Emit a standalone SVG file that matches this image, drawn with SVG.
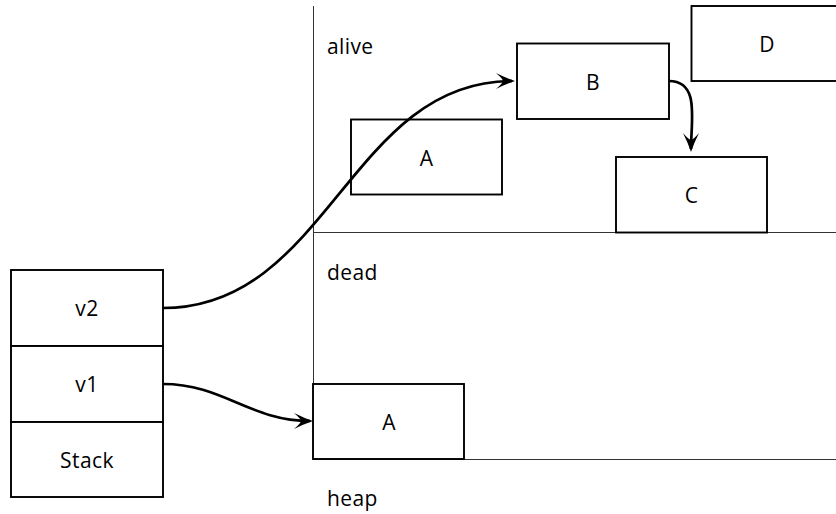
<svg xmlns="http://www.w3.org/2000/svg" width="836" height="514" viewBox="0 0 836 514">
  <style>
    .box { fill: #ffffff; stroke: #000000; stroke-width: 1.9; }
    .lbl { font-family: "Open Sans", "Noto Sans", "DejaVu Sans", sans-serif; font-size: 21px; letter-spacing: 0.4px; fill: #000000; text-anchor: middle; }
    .area { font-family: "Open Sans", "Noto Sans", "DejaVu Sans", sans-serif; font-size: 21px; letter-spacing: 0.4px; fill: #000000; }
    .divider { stroke: #333333; stroke-width: 1; fill: none; }
    .edge { fill: none; stroke: #000000; stroke-width: 2.7; marker-end: url(#head); }
  </style>
  <defs>
    <marker id="head" markerUnits="userSpaceOnUse" viewBox="-22 -10 24 20" refX="-3" refY="0" markerWidth="24" markerHeight="20" orient="auto">
      <path d="M0,0 Q-9,-3 -19,-8 Q-12,-2 -12,0 Q-12,2 -19,8 Q-9,3 0,0 Z" fill="#000000"/>
    </marker>
  </defs>

  <rect width="836" height="514" fill="#ffffff"/>

  <!-- heap regions -->
  <g id="regions">
    <line class="divider" x1="313.5" y1="6" x2="313.5" y2="459.5"/>
    <line class="divider" x1="313.5" y1="232.5" x2="836" y2="232.5"/>
    <line class="divider" x1="313.5" y1="459.5" x2="836" y2="459.5"/>
    <text class="area" x="327" y="53.5">alive</text>
    <text class="area" x="327" y="279.5">dead</text>
    <text class="area" x="327" y="505.5">heap</text>
  </g>

  <!-- stack frames -->
  <g id="stack">
    <g id="v2">
      <rect class="box" x="11" y="270" width="152" height="76"/>
      <text class="lbl" x="87" y="316">v2</text>
    </g>
    <g id="v1">
      <rect class="box" x="11" y="346" width="152" height="76"/>
      <text class="lbl" x="87" y="392">v1</text>
    </g>
    <g id="stack-base">
      <rect class="box" x="11" y="422" width="152" height="75"/>
      <text class="lbl" x="87" y="468">Stack</text>
    </g>
  </g>

  <!-- heap objects -->
  <g id="alive-A">
    <rect class="box" x="351" y="119.5" width="151" height="75"/>
    <text class="lbl" x="426.5" y="165.5">A</text>
  </g>
  <g id="B">
    <rect class="box" x="517" y="43.5" width="152" height="75.5"/>
    <text class="lbl" x="593" y="89.5">B</text>
  </g>
  <g id="C">
    <rect class="box" x="616" y="157" width="151" height="75.5"/>
    <text class="lbl" x="691.5" y="203">C</text>
  </g>
  <g id="D">
    <rect class="box" x="691.5" y="6" width="152" height="75"/>
    <text class="lbl" x="767" y="52">D</text>
  </g>
  <g id="dead-A">
    <rect class="box" x="313" y="384" width="151" height="75"/>
    <text class="lbl" x="389" y="430">A</text>
  </g>

  <!-- references -->
  <g id="connectors">
    <path class="edge" d="M163,308 C328,308 350,81 512,81"/>
    <path class="edge" d="M669,81 C700,81 691,120 691,149"/>
    <path class="edge" d="M163,384 C223,384 250,421 310,421"/>
  </g>
</svg>
